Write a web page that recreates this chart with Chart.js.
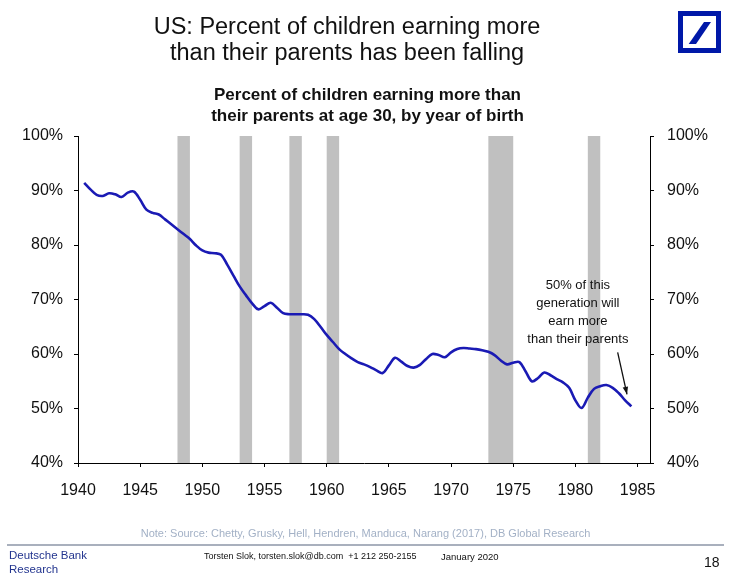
<!DOCTYPE html>
<html>
<head>
<meta charset="utf-8">
<script src="https://cdn.jsdelivr.net/npm/chart.js@4/dist/chart.umd.min.js"></script>
<style>
  body { margin: 0; background: #fff; font-family: "Liberation Sans", Arial, sans-serif; }
  #page { position: relative; width: 731px; height: 578px; overflow: hidden; }
  #myChart { position: absolute; left: 0; top: 0; }
  .txt { position: absolute; white-space: nowrap; }
  #title { left: 0; width: 694px; top: 13px; text-align: center; font-size: 23.5px; line-height: 26px; color: #111; }
  #subtitle { left: 0; width: 735px; top: 85px; text-align: center; font-size: 17px; line-height: 20.5px; font-weight: bold; color: #111; }
  #note { left: 0; width: 731px; top: 527px; text-align: center; font-size: 11px; color: #a3b1c6; }
  #rule { position: absolute; left: 7px; width: 717px; top: 544px; height: 2px; background: #a9b0bd; }
  #bank { left: 9px; top: 549px; font-size: 11.5px; line-height: 13.5px; color: #23358f; }
  #author { left: 204px; top: 551px; font-size: 9px; color: #111; }
  #date { left: 441px; top: 551px; font-size: 9.5px; color: #111; }
  #pageno { left: 704px; top: 554px; font-size: 14px; color: #111; }
  #logo { position: absolute; left: 678px; top: 11px; }
</style>
</head>
<body>
<div id="page">
  <canvas id="myChart" width="731" height="578"></canvas>
  <div class="txt" id="title">US: Percent of children earning more<br>than their parents has been falling</div>
  <div class="txt" id="subtitle">Percent of children earning more than<br>their parents at age 30, by year of birth</div>
  <svg id="logo" width="43" height="43" viewBox="0 0 43 43">
    <rect x="2.5" y="2.5" width="38" height="37" fill="none" stroke="#0018a8" stroke-width="5"/>
    <polygon points="26,11 33,11 18,33 10.7,33" fill="#0018a8"/>
  </svg>
  <div class="txt" id="note">Note: Source: Chetty, Grusky, Hell, Hendren, Manduca, Narang (2017), DB Global Research</div>
  <div id="rule"></div>
  <div class="txt" id="bank">Deutsche Bank<br>Research</div>
  <div class="txt" id="author">Torsten Slok, torsten.slok@db.com&nbsp; +1 212 250-2155</div>
  <div class="txt" id="date">January 2020</div>
  <div class="txt" id="pageno">18</div>
</div>
<script>
// curve every half year
var years = [1940.5, 1941, 1941.5, 1942, 1942.5, 1943, 1943.5, 1944, 1944.5, 1945,
  1945.5, 1946, 1946.5, 1947, 1947.5, 1948, 1948.5, 1949, 1949.5, 1950,
  1950.5, 1951, 1951.5, 1952, 1952.5, 1953, 1953.5, 1954, 1954.5, 1955,
  1955.5, 1956, 1956.5, 1957, 1957.5, 1958, 1958.5, 1959, 1959.5, 1960,
  1960.5, 1961, 1961.5, 1962, 1962.5, 1963, 1963.5, 1964, 1964.5, 1965,
  1965.5, 1966, 1966.5, 1967, 1967.5, 1968, 1968.5, 1969, 1969.5, 1970,
  1970.5, 1971, 1971.5, 1972, 1972.5, 1973, 1973.5, 1974, 1974.5, 1975,
  1975.5, 1976, 1976.5, 1977, 1977.5, 1978, 1978.5, 1979, 1979.5, 1980,
  1980.5, 1981, 1981.5, 1982, 1982.5, 1983, 1983.5, 1984, 1984.5];

var pctEarningMore = [91.4, 90.2, 89.2, 89.0, 89.5, 89.3, 88.8, 89.6, 89.8, 88.3,
  86.5, 85.9, 85.6, 84.7, 83.8, 82.9, 82.0, 81.1, 79.9, 79.0,
  78.6, 78.5, 78.2, 76.4, 74.4, 72.4, 70.8, 69.3, 68.2, 68.8,
  69.4, 68.5, 67.5, 67.3, 67.3, 67.3, 67.2, 66.4, 65.0, 63.5,
  62.2, 60.9, 60.0, 59.2, 58.5, 58.1, 57.6, 57.0, 56.5, 57.9,
  59.3, 58.6, 57.8, 57.5, 58.0, 59.1, 60.0, 59.8, 59.4, 60.3,
  60.9, 61.1, 61.0, 60.9, 60.7, 60.4, 59.8, 58.8, 58.1, 58.4,
  58.5, 56.8, 55.0, 55.6, 56.6, 56.1, 55.4, 54.8, 53.8, 51.5,
  50.1, 52.0, 53.6, 54.1, 54.3, 53.8, 52.8, 51.5, 50.4];

var recessionStart = [1948, 1953, 1957, 1960, 1973, 1981];
var recessionEnd   = [1949, 1954, 1958, 1961, 1975, 1982];

var xTicks = [1940, 1945, 1950, 1955, 1960, 1965, 1970, 1975, 1980, 1985];
var yTicks = [40, 50, 60, 70, 80, 90, 100];

var noteLines = ["50% of this", "generation will", "earn more", "than their parents"];

var axisFont = { family: "'Liberation Sans', Arial, sans-serif", size: 16 };

// grey recession bands behind the line
var recessions = {
  id: 'recessions',
  beforeDatasetsDraw: function(chart) {
    var c = chart.ctx, xs = chart.scales.x, a = chart.chartArea;
    c.save();
    c.fillStyle = '#c0c0c0';
    for (var i = 0; i < recessionStart.length; i++) {
      var x0 = xs.getPixelForValue(recessionStart[i]);
      var x1 = xs.getPixelForValue(recessionEnd[i]);
      c.fillRect(x0, a.top, x1 - x0, a.bottom - a.top);
    }
    c.restore();
  }
};

// text + arrow near the end of the line
var callout = {
  id: 'callout',
  afterDatasetsDraw: function(chart) {
    var c = chart.ctx, xs = chart.scales.x, ys = chart.scales.y;
    c.save();
    c.font = "13px 'Liberation Sans', Arial, sans-serif";
    c.fillStyle = '#111';
    c.textAlign = 'center';
    c.textBaseline = 'middle';
    var cx = xs.getPixelForValue(1980.2), cy = ys.getPixelForValue(72.5);
    noteLines.forEach(function(t, i) { c.fillText(t, cx, cy + i * 17.7); });
    var x0 = xs.getPixelForValue(1983.4), y0 = ys.getPixelForValue(60.3);
    var x1 = xs.getPixelForValue(1984.15), y1 = ys.getPixelForValue(52.6);
    c.strokeStyle = '#111';
    c.lineWidth = 1.3;
    c.beginPath(); c.moveTo(x0, y0); c.lineTo(x1, y1); c.stroke();
    var ang = Math.atan2(y1 - y0, x1 - x0);
    c.beginPath();
    c.moveTo(x1, y1);
    c.lineTo(x1 - 8 * Math.cos(ang - 0.35), y1 - 8 * Math.sin(ang - 0.35));
    c.lineTo(x1 - 8 * Math.cos(ang + 0.35), y1 - 8 * Math.sin(ang + 0.35));
    c.closePath(); c.fill();
    c.restore();
  }
};

var ctx = document.getElementById("myChart");

var myChart = new Chart(ctx, {
  type: 'line',
  data: {
    datasets: [{
      data: years.map(function(y, i) { return { x: y, y: pctEarningMore[i] }; }),
      borderColor: '#1a1ab4',
      borderWidth: 2.6,
      pointRadius: 0,
      tension: 0.35,
      fill: false
    }]
  },
  options: {
    responsive: false,
    animation: false,
    devicePixelRatio: 1,
    layout: { padding: { top: 136, left: 0, right: 0, bottom: 0 } },
    plugins: { legend: { display: false }, tooltip: { enabled: false } },
    scales: {
      x: {
        type: 'linear', min: 1940, max: 1986,
        afterFit: function(s) { s.height = 115; },
        afterBuildTicks: function(s) { s.ticks = xTicks.map(function(v) { return { value: v }; }); },
        grid: { drawOnChartArea: false, color: '#000', tickLength: 4 },
        border: { color: '#000', width: 1 },
        ticks: { color: '#111', font: axisFont, padding: 14, maxRotation: 0, autoSkip: false,
                 callback: function(v) { return String(v); } }
      },
      y: {
        position: 'left', min: 40, max: 100,
        afterFit: function(s) { s.width = 78; },
        afterBuildTicks: function(s) { s.ticks = yTicks.map(function(v) { return { value: v }; }); },
        grid: { drawOnChartArea: false, color: '#000', tickLength: 4 },
        border: { color: '#000', width: 1 },
        ticks: { color: '#111', font: axisFont, padding: 11, callback: function(v) { return v + '%'; } }
      },
      y2: {
        position: 'right', min: 40, max: 100,
        afterFit: function(s) { s.width = 81; },
        afterBuildTicks: function(s) { s.ticks = yTicks.map(function(v) { return { value: v }; }); },
        grid: { drawOnChartArea: false, color: '#000', tickLength: 4 },
        border: { color: '#000', width: 1 },
        ticks: { color: '#111', font: axisFont, padding: 13, callback: function(v) { return v + '%'; } }
      }
    }
  },
  plugins: [recessions, callout]
});
</script>
</body>
</html>
